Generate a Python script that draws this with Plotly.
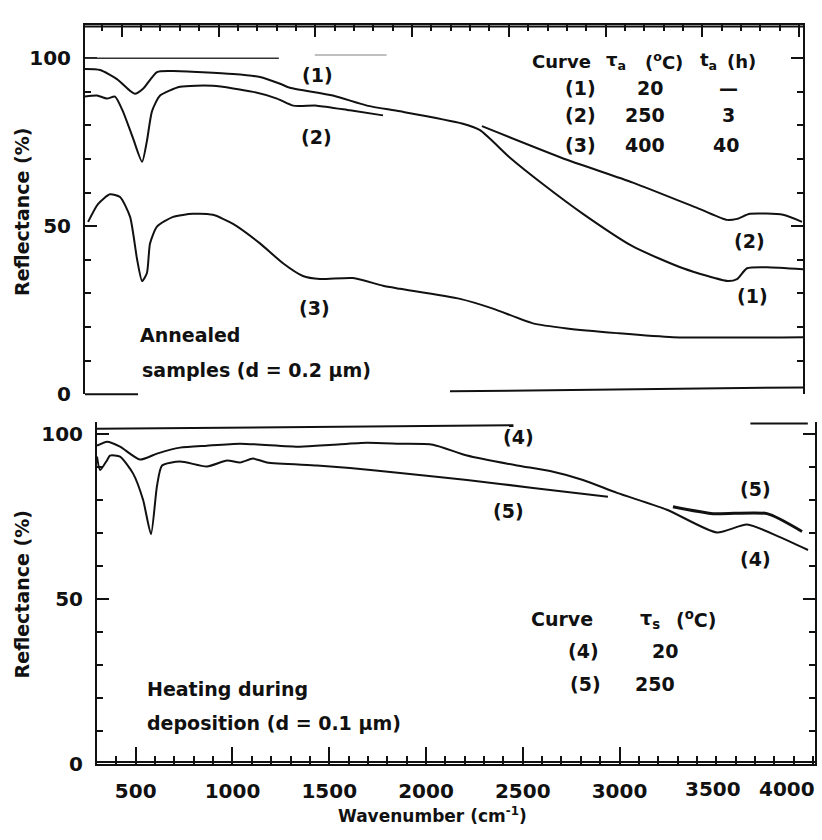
import plotly.graph_objects as go

# ---------------- data ----------------
# Top panel: annealed samples
c1_wn = [310, 388, 475, 543, 568, 610, 682, 765, 1075, 1214, 1318, 1369, 1591, 1767, 1938,
         2258, 2351, 2506, 2677, 2883, 3141, 3400, 3632, 3679, 3731, 3834, 4020]
c1_r = [96.8, 96.5, 93.8, 90.3, 89.4, 90.9, 95.9, 96.2, 95.3, 94.4, 92.4, 91.2, 88.9, 85.9, 84.2,
        80.6, 78.6, 70.4, 62.5, 53.7, 44.0, 37.5, 33.7, 34.3, 37.5, 37.8, 37.2]

c2a_wn = [310, 372, 424, 465, 506, 558, 605, 630, 656, 698, 801, 971, 1178, 1302, 1385, 1509, 1679, 1850]
c2a_r = [88.6, 88.9, 88.0, 88.6, 84.2, 76.2, 69.2, 75.4, 84.2, 88.9, 91.5, 91.8, 90.0, 88.0, 85.9, 85.9, 84.5, 83.0]
c2b_wn = [2361, 2800, 3141, 3488, 3627, 3679, 3746, 3917, 4015]
c2b_r = [79.8, 69.8, 63.0, 55.1, 51.9, 52.2, 53.7, 53.4, 51.3]

c3_wn = [326, 377, 439, 491, 543, 579, 605, 630, 646, 682, 765, 868, 971, 1075, 1214, 1333, 1436,
         1524, 1695, 1850, 1938, 2248, 2418, 2625, 2800, 3059, 3348, 4020]
c3_r = [51.3, 56.6, 59.5, 58.7, 52.8, 40.2, 33.7, 36.1, 44.9, 49.9, 52.8, 53.7, 53.4, 50.7, 44.9, 39.0, 35.2,
        34.3, 34.6, 32.3, 31.4, 28.4, 25.5, 21.1, 19.6, 18.2, 17.0, 17.0]

# Bottom panel: heating during deposition
c4_wn = [300, 352, 419, 522, 610, 729, 868, 1039, 1349, 1519, 1695, 1866, 2036, 2212, 2470, 2641,
         2811, 2987, 3245, 3503, 3659, 3829, 3974]
c4_r = [96.4, 97.6, 96.1, 92.2, 94.0, 95.8, 96.4, 97.0, 96.1, 96.7, 97.3, 97.0, 96.7, 93.4, 90.4, 88.7,
        86.0, 82.1, 77.0, 70.1, 72.5, 68.7, 64.8]

c5a_wn = [300, 316, 352, 367, 419, 486, 538, 579, 610, 636, 729, 868, 972, 1039, 1106, 1178, 1437,
          1607, 1866, 2212, 2553, 2940]
c5a_r = [93.1, 89.0, 92.0, 93.4, 93.1, 88.0, 80.0, 69.6, 84.2, 90.4, 91.6, 90.1, 91.9, 91.3, 92.5, 91.3, 90.4,
         89.6, 88.1, 86.0, 83.6, 80.9]
c5b_wn = [3276, 3483, 3762, 3943]
c5b_r = [77.9, 75.8, 75.8, 70.4]

x_major = [500, 1000, 1500, 2000, 2500, 3000, 3500, 4000]
x_major_text = ["500", "1000", "1500", "2000", "2500", "3000", "", ""]
x_minor = list(range(400, 4001, 100))
y_major = [0, 50, 100]
y_minor = [10, 20, 30, 40, 60, 70, 80, 90]

FONT = "DejaVu Sans"
INK = "#111111"
CLEAR = "rgba(0,0,0,0)"
W, H = 822, 840

fig = go.Figure()

def add(x, y, xa, ya, width=2.0, color=INK):
    fig.add_trace(go.Scatter(x=x, y=y, mode="lines", xaxis=xa, yaxis=ya,
                             line=dict(color=color, width=width, shape="spline", smoothing=0.6),
                             showlegend=False, hoverinfo="skip"))

add(c1_wn, c1_r, "x", "y")
add(c2a_wn, c2a_r, "x", "y")
add(c2b_wn, c2b_r, "x", "y")
add(c3_wn, c3_r, "x", "y")
add(c4_wn, c4_r, "x2", "y2")
add(c5a_wn, c5a_r, "x2", "y2")
add(c5b_wn, c5b_r, "x2", "y2", width=3.0)

def px_x(p):
    return p / W

def px_y(p):
    return 1 - p / H

tick_font = dict(family=FONT, size=20, color=INK, weight="bold")

def axis(**kw):
    d = dict(showgrid=True, gridcolor=CLEAR, showline=True, linecolor=INK, linewidth=2,
             ticks="inside", tickcolor=INK, tickwidth=2, tickfont=tick_font)
    d.update(kw)
    return d

def minor(vals, ln):
    return dict(tickmode="array", tickvals=vals, ticklen=ln, ticks="inside",
                tickcolor=INK, tickwidth=1.5, showgrid=False)

fig.update_layout(
    width=W, height=H,
    margin=dict(l=0, r=0, t=0, b=0),
    paper_bgcolor="white", plot_bgcolor="white",
    xaxis=axis(domain=[px_x(85), px_x(803)], range=[310, 4020], anchor="y", side="top",
               tickmode="array", tickvals=x_major, ticklen=12, showticklabels=False,
               minor=minor(x_minor, 6)),
    yaxis=axis(domain=[px_y(400), px_y(25)], range=[0, 110], anchor="x", mirror="ticks",
               zeroline=True, zerolinecolor=CLEAR,
               tickmode="array", tickvals=y_major, ticklen=12, ticklabelstandoff=8,
               minor=minor(y_minor, 6)),
    xaxis2=axis(domain=[px_x(97), px_x(815)], range=[300, 4010], anchor="y2",
                tickmode="array", tickvals=x_major, ticktext=x_major_text, ticklen=17,
                ticklabelstandoff=8, minor=minor(x_minor, 8)),
    yaxis2=axis(domain=[px_y(775), px_y(428)], range=[0, 103.6], anchor="x2", mirror="ticks",
                zeroline=True, zerolinecolor=INK, zerolinewidth=2,
                tickmode="array", tickvals=y_major, ticklen=12, ticklabelstandoff=8,
                minor=minor(y_minor, 6)),
)

# frame pieces of the scanned figure
shapes = [
    # top panel: top frame
    dict(type="line", xref="paper", yref="paper", x0=px_x(85), x1=px_x(803), y0=px_y(27), y1=px_y(27),
         line=dict(color=INK, width=2)),
    # top panel: 100 % reference line
    dict(type="line", xref="x domain", yref="y", x0=0, x1=0.27, y0=100, y1=100,
         line=dict(color="#333", width=1.5)),
    dict(type="line", xref="x domain", yref="y", x0=0.32, x1=0.42, y0=101, y1=101,
         line=dict(color="#aaa", width=1.5)),
    # top panel: broken bottom frame
    dict(type="line", xref="paper", yref="paper", x0=px_x(85), x1=px_x(138), y0=px_y(400), y1=px_y(400),
         line=dict(color=INK, width=2)),
    dict(type="line", xref="paper", yref="paper", x0=px_x(450), x1=px_x(803), y0=px_y(397), y1=px_y(393),
         line=dict(color=INK, width=2)),
    # bottom panel: bottom frame
    dict(type="line", xref="paper", yref="paper", x0=px_x(97), x1=px_x(815), y0=px_y(773), y1=px_y(773),
         line=dict(color=INK, width=2)),
    # bottom panel: top frame pieces
    dict(type="line", xref="x2 domain", yref="y2 domain", x0=0, x1=0.58, y0=0.98, y1=0.99,
         line=dict(color=INK, width=2)),
    dict(type="line", xref="x2 domain", yref="y2 domain", x0=0.91, x1=0.99, y0=0.995, y1=0.995,
         line=dict(color=INK, width=2)),
]
fig.update_layout(shapes=shapes)

def txt(text, px, py, xanchor="center", size=19, angle=0):
    fig.add_annotation(text=text, x=px_x(px), y=px_y(py), xref="paper", yref="paper",
                       xanchor=xanchor, yanchor="middle", showarrow=False, textangle=angle,
                       font=dict(family=FONT, size=size, color=INK, weight="bold"))

# top panel labels
txt("(1)", 317, 76)
txt("(2)", 316, 139)
txt("(3)", 314, 312)
txt("(2)", 749, 244)
txt("(1)", 752, 300)
txt("Curve", 561, 62, size=18)
txt("τ<sub>a</sub>", 616, 62, size=18)
txt("(<sup>o</sup>C)", 664, 62, size=18)
txt("t<sub>a</sub>", 708, 62, size=18)
txt("(h)", 741, 62, size=18)
txt("(1)", 580, 89)
txt("20", 650, 89)
txt("—", 728, 89)
txt("(2)", 580, 117)
txt("250", 645, 117)
txt("3", 728, 117)
txt("(3)", 580, 147)
txt("400", 645, 147)
txt("40", 726, 147)
txt("Annealed", 138, 340, xanchor="left")
txt("samples (d = 0.2 μm)", 140, 375, xanchor="left")

# bottom panel labels
txt("(4)", 518, 443)
txt("(5)", 508, 518)
txt("(5)", 755, 496)
txt("(4)", 755, 567)
txt("Curve", 562, 628)
txt("τ<sub>s</sub>", 650, 628)
txt("(<sup>o</sup>C)", 696, 628)
txt("(4)", 583, 660)
txt("20", 665, 660)
txt("(5)", 585, 694)
txt("250", 655, 694)
txt("Heating during", 145, 699, xanchor="left")
txt("deposition (d = 0.1 μm)", 145, 733, xanchor="left")

# x tick labels squeezed at the right end
txt("3500", 713, 800, size=20)
txt("4000", 787, 800, size=20)

# axis titles
txt("Wavenumber (cm<sup>-1</sup>)", 432, 827, size=17)
txt("Reflectance (%)", 22, 215, size=19, angle=-90)
txt("Reflectance (%)", 22, 603, size=19, angle=-90)

fig.write_html("out.html")
